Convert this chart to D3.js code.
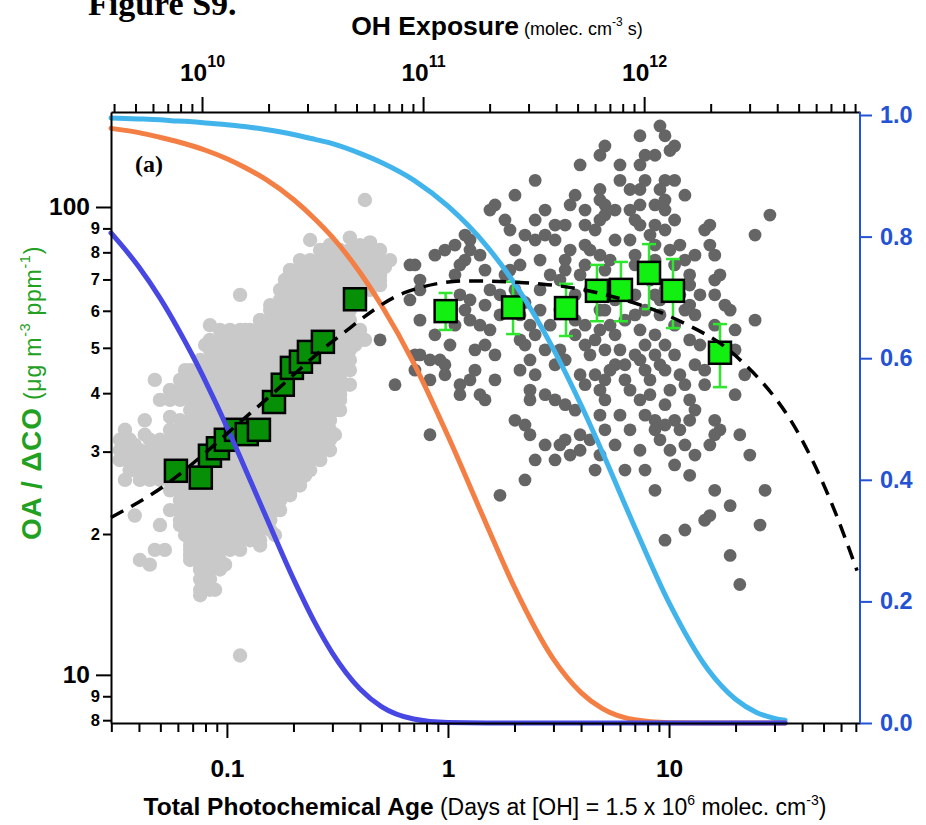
<!DOCTYPE html>
<html><head><meta charset="utf-8">
<script src="https://cdn.jsdelivr.net/npm/d3@7"></script>
<style>body{margin:0;background:#fff}svg{display:block}</style>
</head><body><svg id="chart" width="926" height="825"></svg>
<script>
// ---------------- DATA ----------------
const ohPerDay = 1.5e6 * 86400;          // OH exposure per day of age
const ageDomain = [0.0299, 73.1];
const ratioDomain = [7.89, 159.6];
const xMajorTicks = [0.1, 1, 10];
const yMajorTicks = [10, 100];
const yMinorTicks = [8, 9, 20, 30, 40, 50, 60, 70, 80, 90];
const rightTicks = [0, 0.2, 0.4, 0.6, 0.8, 1.0];
const ohMajorTicks = [1e10, 1e11, 1e12];

// dark grey points [age (days), OA/dCO]
const darkPoints = [[9.10,149],[9.59,142],[7.39,142],[10.6,135],[10.1,132],[8.64,129],[7.79,129],[5.13,135],[4.87,129],[3.96,123],[6.00,123],[7.39,123],[7.79,114],[7.39,109],[6.00,114],[6.66,109],[4.87,109],[9.59,114],[10.6,114],[11.8,106],[9.10,109],[9.59,103.5],[3.76,106],[3.57,101],[4.17,98.5],[4.87,103.5],[5.13,101],[5.70,98.5],[6.66,98.5],[7.39,101],[8.64,101],[9.59,98.5],[10.6,93.8],[7.39,91.5],[8.64,91.5],[9.59,89.3],[7.02,93.8],[4.17,91.5],[4.63,89.3],[4.87,93.8],[5.13,96.1],[2.48,114],[2.01,106],[1.632,101],[1.549,98.5],[2.75,98.5],[3.05,91.5],[3.39,91.5],[2.48,93.8],[1.811,93.8],[1.908,89.3],[2.23,87.1],[2.48,85.0],[2.75,87.1],[3.05,85.0],[5.70,85.0],[4.39,80.9],[4.87,78.9],[5.41,77.0],[3.57,80.9],[3.39,77.0],[3.39,73.3],[3.21,69.8],[3.96,71.6],[15.3,91.5],[14.5,89.3],[15.3,82.9],[16.1,78.9],[24.5,87.1],[28.6,96.1],[11.2,82.9],[13.1,78.9],[11.8,77.0],[8.64,82.9],[7.02,78.9],[12.4,71.6],[16.1,69.8],[17.0,71.6],[16.1,64.9],[17.9,61.7],[18.9,60.2],[24.5,57.3],[1.194,87.1],[1.076,82.9],[0.969,80.9],[0.873,78.9],[1.258,85.0],[1.258,80.9],[1.396,78.9],[1.194,77.0],[1.133,75.2],[1.076,71.6],[0.709,75.2],[0.747,69.8],[0.673,63.3],[0.747,57.3],[0.873,53.3],[1.021,50.7],[1.258,63.3],[1.258,57.3],[1.471,73.3],[1.549,66.5],[1.471,61.7],[1.719,58.8],[1.908,73.3],[2.118,75.2],[1.811,71.6],[2.01,80.9],[2.35,55.9],[2.61,66.5],[2.61,60.2],[2.48,53.3],[1.325,49.5],[1.471,50.7],[1.549,54.6],[1.632,48.3],[2.118,52.0],[2.23,50.7],[3.76,53.3],[4.17,50.7],[5.13,60.2],[5.70,53.3],[7.02,58.8],[7.39,54.6],[9.10,58.8],[8.64,53.3],[9.59,50.7],[10.6,55.9],[11.8,60.2],[12.4,52.0],[13.8,50.7],[13.1,58.8],[19.9,49.5],[19.9,54.6],[16.1,55.9],[5.13,49.5],[4.39,48.3],[2.75,49.5],[3.21,49.5],[7.02,48.3],[10.6,48.3],[4.17,82.9],[4.87,60.2],[4.17,55.9],[5.41,55.9],[7.02,64.9],[8.64,64.9],[12.4,61.7],[13.8,64.9],[12.4,68.1],[10.6,75.2],[7.02,75.2],[8.64,77.0],[4.17,75.2],[5.13,73.3],[3.76,64.9],[3.21,60.2],[2.90,55.9],[2.118,58.8],[1.719,64.9],[0.747,66.5],[1.133,64.9],[1.194,60.2],[1.396,55.9],[1.076,55.9],
[0.709,48.3],[0.829,47.1],[0.969,46.0],[0.709,44.8],[0.829,42.7],[0.969,43.8],[1.325,44.8],[1.632,42.7],[1.133,41.7],[1.258,42.7],[1.133,39.7],[1.396,39.7],[1.471,38.7],[2.118,44.8],[2.35,47.1],[2.48,43.8],[3.05,46.0],[3.39,47.1],[2.35,40.6],[2.35,38.7],[2.75,39.7],[3.05,38.7],[3.39,37.8],[3.76,36.8],[3.96,43.8],[4.17,41.7],[4.63,43.8],[4.87,40.6],[5.13,42.7],[5.70,46.0],[6.32,46.0],[7.39,47.1],[7.79,44.8],[8.64,48.3],[9.10,46.0],[9.59,44.8],[11.2,43.8],[6.32,42.7],[8.20,42.7],[13.1,46.0],[14.5,44.8],[11.8,41.7],[14.5,41.7],[19.9,39.7],[7.39,38.7],[8.20,39.7],[5.13,38.7],[4.87,35.9],[6.00,35.9],[7.79,35.9],[8.64,35.0],[9.59,37.8],[9.59,34.2],[10.6,35.0],[11.2,33.4],[12.4,35.0],[13.1,36.8],[16.1,35.0],[17.0,33.4],[16.1,32.6],[15.3,31.0],[20.9,32.6],[23.2,29.5],[11.8,31.0],[13.1,29.5],[10.6,28.1],[10.1,30.2],[9.10,31.8],[7.39,30.2],[6.66,33.4],[6.32,27.4],[5.13,33.4],[4.87,29.5],[4.63,27.4],[3.96,32.6],[4.39,31.8],[3.96,30.2],[3.39,31.8],[3.21,31.0],[3.05,28.8],[2.48,28.8],[2.23,26.1],[2.01,35.0],[2.23,34.2],[2.35,32.6],[1.719,24.2],[0.829,32.6],[8.64,24.8],[16.1,24.8],[18.9,23.0],[14.5,21.4],[15.3,21.9],[11.8,20.4],[9.59,19.4],[25.8,20.9],[18.9,18.0],[20.9,15.6],[22.0,43.8],[27.2,24.8],
[0.493,52.0],[0.576,41.7],[0.673,75.2],[0.747,48.3],[0.920,47.1],
[4.87,54.6],[6.32,57.3],[7.79,50.7],[6.00,49.5],[3.76,57.3],[4.63,52.0],[9.10,63.3],[7.79,60.2],
[5.70,63.3],[6.32,68.1],[8.20,69.8],[9.59,66.5],[11.2,64.9],[3.57,60.2],[4.39,66.5],[2.90,71.6],[2.61,77.0],[6.66,85.0],[8.20,87.1],[10.1,80.9],[2.01,66.5],[2.23,62.5],[1.908,60.2],[5.41,44.8],[6.66,40.6],[10.1,40.6],[12.4,38.7],[8.64,33.4],[5.70,31.0],[3.57,29.5],[2.75,31.0],[7.79,27.4],[12.4,26.7]];

// light grey points: outer edge of the cloud [age, OA/dCO]
const lightEdgePoints = [[0.421,103.5],[0.238,85.0],[0.400,82.9],[0.493,80.9],[0.547,77.0],[0.444,77.0],[0.2925,78.9],[0.193,73.3],[0.238,73.3],[0.325,77.0],[0.493,71.6],[0.493,68.1],[0.1147,64.9],[0.0838,55.9],[0.0981,53.3],[0.1413,53.3],[0.0472,42.7],[0.0553,40.6],[0.0498,38.7],[0.0614,40.6],[0.0647,44.8],[0.0718,43.8],[0.0328,31.8],[0.0363,31.8],[0.0425,32.6],[0.0328,28.8],[0.0404,29.5],[0.0383,27.4],[0.0472,26.7],[0.0582,32.6],[0.0682,34.2],[0.0757,36.8],[0.0797,38.7],[0.380,50.7],[0.421,52.0],[0.360,41.7],[0.325,43.8],[0.308,32.6],[0.278,35.0],[0.264,40.6],[0.183,69.8],[0.214,66.5],[0.264,64.9],[0.2925,68.1],[0.342,71.6],[0.400,71.6],[0.157,61.7],[0.183,60.2],[0.214,58.8],[0.238,60.2],[0.278,57.3],[0.325,55.9],[0.342,60.2],[0.1413,57.3],[0.1208,54.6],[0.1147,50.7],[0.1273,48.3],[0.149,49.5],[0.174,50.7],[0.193,52.0],[0.1413,46.0],[0.1208,42.7],[0.1033,41.7],[0.0930,38.7],[0.0838,35.9],[0.0757,34.2],[0.0682,31.0],[0.214,41.7],[0.238,37.8],[0.214,35.0],[0.183,34.2],[0.157,31.8],[0.1413,29.5],[0.174,29.5],[0.214,31.0],[0.238,32.6],[0.264,28.8],[0.214,28.1],[0.183,26.7],[0.1208,28.1],[0.1033,26.7],[0.0614,28.8],
[0.0346,26.1],[0.0425,27.4],[0.0383,21.9],[0.0498,20.9],[0.0553,22.5],[0.0472,18.5],[0.0524,18.5],[0.0404,17.6],[0.0448,17.2],[0.0614,20.9],[0.0647,19.9],[0.0682,18.0],[0.0757,16.8],[0.0797,15.6],[0.0884,15.2],[0.0757,14.8],[0.0838,17.6],[0.0884,18.5],[0.0981,17.2],[0.0682,18.9],[0.0797,19.4],[0.0930,19.4],[0.1088,19.9],[0.1208,20.4],[0.1413,18.9],[0.165,19.9],[0.1341,21.4],[0.1147,20.9],[0.0930,20.9],[0.0757,20.9],[0.0682,21.9],[0.0614,23.6],[0.0718,24.2],[0.0838,25.4],[0.1033,24.8],[0.1208,25.4],[0.149,24.8],[0.157,26.7],[0.1273,26.7],[0.0838,26.7],[0.193,28.8],[0.226,26.7],[0.214,25.4],[0.193,24.2],[0.1147,11.0],
[0.0797,50.7],[0.1088,52.0],[0.1341,52.0],[0.165,55.9],[0.278,61.7],[0.308,46.0],[0.325,39.7],[0.308,36.8],[0.2925,30.2],[0.165,22.5],[0.1088,21.9],[0.0383,31.0],[0.0346,33.4],
[0.2925,83.0],[0.36,86.0],[0.444,84.0],[0.519,74.5],[0.0425,35.0],[0.0553,35.6]];

// light grey points: dense core of the cloud, one row of ages per OA/dCO level
const lightRowRatio = [80.9,77.0,73.3,69.8,66.5,63.3,60.2,57.3,54.6,52.0,49.5,47.1,44.8,42.7,40.6,38.7,36.8,35.0,33.4,31.8,30.2,28.8,27.4,26.1,24.8,23.6,22.5,21.4,20.4,19.4,18.5,17.6,16.8,16.0,15.2];
const lightRowAges = [
[0.264,0.2925,0.325,0.36,0.4,0.444],
[0.214,0.238,0.264,0.2925,0.325,0.36,0.4,0.444,0.493],
[0.193,0.214,0.238,0.264,0.2925,0.325,0.36,0.4,0.444,0.493],
[0.193,0.214,0.238,0.264,0.2925,0.325,0.36,0.4,0.444,0.493],
[0.174,0.193,0.214,0.238,0.264,0.2925,0.325,0.36,0.4,0.444],
[0.174,0.193,0.214,0.238,0.264,0.2925,0.325,0.36,0.4],
[0.157,0.174,0.193,0.214,0.238,0.264,0.2925,0.325,0.36],
[0.1413,0.157,0.174,0.193,0.214,0.238,0.264,0.2925,0.325,0.36],
[0.093,0.1033,0.1147,0.1273,0.1413,0.157,0.174,0.193,0.214,0.238,0.264,0.2925,0.325,0.36,0.4],
[0.0838,0.093,0.1033,0.1147,0.1273,0.1413,0.157,0.174,0.193,0.214,0.238,0.264,0.2925,0.325,0.36,0.4],
[0.0838,0.093,0.1033,0.1147,0.1273,0.1413,0.157,0.174,0.193,0.214,0.238,0.264,0.2925,0.325,0.36],
[0.0757,0.0838,0.093,0.1033,0.1147,0.1273,0.1413,0.157,0.174,0.193,0.214,0.238,0.264,0.2925,0.325,0.36],
[0.0682,0.0757,0.0838,0.093,0.1033,0.1147,0.1273,0.1413,0.157,0.174,0.193,0.214,0.238,0.264,0.2925,0.325,0.36],
[0.0614,0.0682,0.0757,0.0838,0.093,0.1033,0.1147,0.1273,0.1413,0.157,0.174,0.193,0.214,0.238,0.264,0.2925,0.325],
[0.0553,0.0614,0.0682,0.0757,0.0838,0.093,0.1033,0.1147,0.1273,0.1413,0.157,0.174,0.193,0.214,0.238,0.264,0.2925,0.325],
[0.0553,0.0614,0.0682,0.0757,0.0838,0.093,0.1033,0.1147,0.1273,0.1413,0.157,0.174,0.193,0.214,0.238,0.264,0.2925,0.325],
[0.0682,0.0757,0.0838,0.093,0.1033,0.1147,0.1273,0.1413,0.157,0.174,0.193,0.214,0.238,0.264,0.2925,0.325],
[0.0614,0.0682,0.0757,0.0838,0.093,0.1033,0.1147,0.1273,0.1413,0.157,0.174,0.193,0.214,0.238,0.264,0.2925],
[0.0553,0.0614,0.0682,0.0757,0.0838,0.093,0.1033,0.1147,0.1273,0.1413,0.157,0.174,0.193,0.214,0.238,0.264,0.2925],
[0.0363,0.0448,0.0498,0.0553,0.0614,0.0682,0.0757,0.0838,0.093,0.1033,0.1147,0.1273,0.1413,0.157,0.174,0.193,0.214,0.238,0.264,0.2925],
[0.0328,0.0363,0.0404,0.0448,0.0498,0.0553,0.0614,0.0682,0.0757,0.0838,0.093,0.1033,0.1147,0.1273,0.1413,0.157,0.174,0.193,0.214,0.238,0.264],
[0.0328,0.0363,0.0404,0.0448,0.0498,0.0553,0.0614,0.0682,0.0757,0.0838,0.093,0.1033,0.1147,0.1273,0.1413,0.157,0.174,0.193,0.214,0.238,0.264],
[0.0363,0.0404,0.0448,0.0498,0.0553,0.0614,0.0682,0.0757,0.0838,0.093,0.1033,0.1147,0.1273,0.1413,0.157,0.174,0.193,0.214,0.238],
[0.0404,0.0448,0.0498,0.0553,0.0614,0.0682,0.0757,0.0838,0.093,0.1033,0.1147,0.1273,0.1413,0.157,0.174,0.193,0.214],
[0.0553,0.0614,0.0682,0.0757,0.0838,0.093,0.1033,0.1147,0.1273,0.1413,0.157,0.174,0.193],
[0.0614,0.0682,0.0757,0.0838,0.093,0.1033,0.1147,0.1273,0.1413,0.157,0.174],
[0.0614,0.0682,0.0757,0.0838,0.093,0.1033,0.1147,0.1273,0.1413,0.157,0.174],
[0.0614,0.0682,0.0757,0.0838,0.093,0.1033,0.1147,0.1273,0.1413,0.157],
[0.0682,0.0757,0.0838,0.093,0.1033,0.1147,0.1273,0.1413,0.157],
[0.0682,0.0757,0.0838,0.093,0.1033,0.1147,0.1273,0.1413],
[0.0682,0.0757,0.0838,0.093,0.1033,0.1147],
[0.0682,0.0757,0.0838,0.093],
[0.0757,0.0838,0.093],
[0.0757,0.0838],
[0.0757,0.0838]];

// binned averages, first flight (dark green) and aged (bright green)
const earlyBinAge   = [0.0588,0.0762,0.0838,0.0911,0.0989,0.110,0.123,0.1396,0.1633,0.179,0.1968,0.2162,0.235,0.2718,0.3796];
const earlyBinRatio = [27.3,26.4,29.4,30.5,31.8,33.4,32.7,33.4,38.3,41.7,45.3,46.7,49.0,51.5,63.5];
const earlyBinLo    = [25.9,25.1,27.9,29.0,30.2,31.7,31.1,31.7,36.4,39.6,43.0,44.4,46.6,48.9,60.3];
const earlyBinHi    = [28.7,27.7,30.9,32.0,33.4,35.1,34.3,35.1,40.2,43.8,47.6,49.0,51.5,54.1,66.7];
const agedBinAge    = [0.976,1.97,3.42,4.72,6.06,8.12,10.42,17.0];
const agedBinRatio  = [59.9,61.0,60.8,66.2,66.5,72.3,66.2,48.8];
const agedBinLo     = [54.6,53.5,53.0,57.0,57.0,60.5,55.1,41.2];
const agedBinHi     = [65.5,69.2,68.5,75.2,76.3,83.3,77.4,56.2];

// fit through OA/dCO (dashed)
const fitAge   = [0.0299,0.0468,0.1325,0.318,0.632,1.22,2.69,5.58,10.87,20.3,39.2,53.5,70.9];
const fitRatio = [21.7,24.5,36.8,52.7,65.5,69.5,68.4,64.3,57.4,47.8,32.3,23.7,16.7];

// fraction remaining (right axis)
const decayAge   = [0.0299,0.04,0.05,0.06,0.07,0.08,0.1,0.12,0.15,0.2,0.25,0.3,0.4,0.5,0.7,1,1.5,2,3,4,5,7,10,15,20,25,30,33.5];
const fastFrac   = [0.806,0.750,0.698,0.649,0.604,0.562,0.487,0.421,0.340,0.237,0.165,0.115,0.056,0.027,0.0065,0.0007,0,0,0,0,0,0,0,0,0,0,0,0];
const midFrac    = [0.978,0.971,0.963,0.956,0.949,0.942,0.928,0.914,0.894,0.861,0.829,0.799,0.741,0.687,0.592,0.472,0.325,0.223,0.105,0.050,0.0235,0.0052,0.0006,0,0,0,0,0];
const slowFrac   = [0.995,0.9935,0.992,0.990,0.989,0.987,0.984,0.981,0.976,0.968,0.960,0.953,0.937,0.922,0.893,0.850,0.784,0.723,0.615,0.523,0.445,0.322,0.198,0.088,0.039,0.017,0.0077,0.0044];

// ---------------- DRAW ----------------
const L = 111, R = 860, T = 112, B = 723;
const svg = d3.select("#chart");
const FONT = "'Liberation Sans', Arial, sans-serif";
const BLUE = "#2452d4", GREENT = "#22a022";

const x = d3.scaleLog().domain(ageDomain).range([L, R]);
const y = d3.scaleLog().domain(ratioDomain).range([B, T]);
const yR = d3.scaleLinear().domain([0, 1]).range([B, 115]);
const xTop = d3.scaleLog().domain(ageDomain.map(d => d * ohPerDay)).range([L, R]);

// scatter
const lightPts = [];
lightRowRatio.forEach((r, i) => lightRowAges[i].forEach(a => lightPts.push([a, r])));
lightEdgePoints.forEach(p => lightPts.push(p));
svg.append("g").selectAll("circle").data(lightPts).join("circle")
  .attr("cx", d => x(d[0])).attr("cy", d => y(d[1])).attr("r", 7.2).attr("fill", "#c9c9c9");
svg.append("g").selectAll("circle").data(darkPoints).join("circle")
  .attr("cx", d => x(d[0])).attr("cy", d => y(d[1])).attr("r", 6.4).attr("fill", "#656565");

// bins with error bars
function drawBins(ages, vals, lo, hi, fill) {
  const g = svg.append("g");
  const eb = "#2fe62f";
  ages.forEach((a, i) => {
    const cx = x(a);
    g.append("line").attr("x1", cx).attr("x2", cx).attr("y1", y(lo[i])).attr("y2", y(hi[i]))
      .attr("stroke", eb).attr("stroke-width", 2.5);
    [lo[i], hi[i]].forEach(v => g.append("line").attr("x1", cx - 7).attr("x2", cx + 7)
      .attr("y1", y(v)).attr("y2", y(v)).attr("stroke", eb).attr("stroke-width", 2.5));
  });
  g.selectAll("rect").data(ages).join("rect")
    .attr("x", (d) => x(d) - 11).attr("y", (d, i) => y(vals[i]) - 11)
    .attr("width", 22).attr("height", 22)
    .attr("fill", fill).attr("stroke", "#000").attr("stroke-width", 2.5);
}
drawBins(earlyBinAge, earlyBinRatio, earlyBinLo, earlyBinHi, "#078f07");
drawBins(agedBinAge, agedBinRatio, agedBinLo, agedBinHi, "#12f012");

// decay curves
const decLine = d3.line().x(d => x(d[0])).y(d => yR(d[1])).curve(d3.curveMonotoneX);
[[slowFrac, "#42b4ec"], [midFrac, "#f37f45"], [fastFrac, "#4747e3"]].forEach(([f, c]) => {
  svg.append("path").datum(decayAge.map((a, i) => [a, f[i]])).attr("d", decLine)
    .attr("fill", "none").attr("stroke", c).attr("stroke-width", 5).attr("stroke-linecap", "round");
});

// dashed fit
const fitLine = d3.line().x(d => x(d[0])).y(d => y(d[1])).curve(d3.curveMonotoneX);
svg.append("path").datum(fitAge.map((a, i) => [a, fitRatio[i]])).attr("d", fitLine)
  .attr("fill", "none").attr("stroke", "#000").attr("stroke-width", 3.5).attr("stroke-dasharray", "14,9");

// axes
function style(g, color, lw) {
  g.selectAll("path.domain").attr("stroke", color).attr("stroke-width", lw);
  g.selectAll(".tick line").attr("stroke", color).attr("stroke-width", 2);
  g.selectAll("text").attr("fill", color).attr("font-family", FONT).attr("font-weight", "bold");
}
const xMinor = x.ticks().filter(t => !xMajorTicks.some(m => Math.abs(m - t) < 1e-9));
let g;
g = svg.append("g").attr("transform", `translate(0,${B})`)
  .call(d3.axisBottom(x).tickValues(xMinor).tickSize(9).tickSizeOuter(0).tickFormat(""));
style(g, "#000", 2);
g = svg.append("g").attr("transform", `translate(0,${B})`)
  .call(d3.axisBottom(x).tickValues(xMajorTicks).tickSize(15).tickSizeOuter(0).tickPadding(22).tickFormat(d3.format("~g")));
g.select("path.domain").remove();
style(g, "#000", 2); g.selectAll("text").attr("font-size", 24.5);

const ohMinor = xTop.ticks().filter(t => !ohMajorTicks.some(m => Math.abs(m / t - 1) < 1e-6));
g = svg.append("g").attr("transform", `translate(0,${T})`)
  .call(d3.axisTop(xTop).tickValues(ohMinor).tickSize(8).tickSizeOuter(0).tickFormat(""));
style(g, "#000", 2);
g = svg.append("g").attr("transform", `translate(0,${T})`)
  .call(d3.axisTop(xTop).tickValues(ohMajorTicks).tickSize(15).tickSizeOuter(0).tickPadding(16).tickFormat(""));
g.select("path.domain").remove();
style(g, "#000", 2);
g.selectAll(".tick text").each(function(d) {
  const t = d3.select(this).attr("font-size", 24.5);
  t.append("tspan").text("10");
  t.append("tspan").attr("font-size", 16).attr("dy", -14).text(Math.round(Math.log10(d)));
});

g = svg.append("g").attr("transform", `translate(${L},0)`)
  .call(d3.axisLeft(y).tickValues(yMinorTicks).tickSize(8).tickSizeOuter(0).tickPadding(3)
  .tickFormat(d => String(d).charAt(0)));
style(g, "#000", 2); g.selectAll("text").attr("font-size", 16.5);
g = svg.append("g").attr("transform", `translate(${L},0)`)
  .call(d3.axisLeft(y).tickValues(yMajorTicks).tickSize(15).tickSizeOuter(0).tickPadding(6).tickFormat(d3.format("d")));
g.select("path.domain").remove();
style(g, "#000", 2); g.selectAll("text").attr("font-size", 24.5);

g = svg.append("g").attr("transform", `translate(${R},0)`)
  .call(d3.axisRight(yR).tickValues(rightTicks).tickSize(12).tickSizeOuter(0).tickPadding(8).tickFormat(d3.format(".1f")));
g.select("path.domain").attr("d", `M0,${T}V${B}`);
style(g, BLUE, 2); g.selectAll("text").attr("font-size", 23.5);

// titles
const bt = svg.append("text").attr("x", 485).attr("y", 815).attr("text-anchor", "middle")
  .attr("font-family", FONT).attr("fill", "#000");
bt.append("tspan").attr("font-weight", "bold").attr("font-size", 24.5).text("Total Photochemical Age");
bt.append("tspan").attr("font-size", 23).text(" (Days at [OH] = 1.5 x 10");
bt.append("tspan").attr("font-size", 14).attr("dy", -10).text("6");
bt.append("tspan").attr("font-size", 23).attr("dy", 10).text(" molec. cm");
bt.append("tspan").attr("font-size", 14).attr("dy", -10).text("-3");
bt.append("tspan").attr("font-size", 23).attr("dy", 10).text(")");

const tt = svg.append("text").attr("x", 497).attr("y", 35).attr("text-anchor", "middle")
  .attr("font-family", FONT).attr("fill", "#000");
tt.append("tspan").attr("font-weight", "bold").attr("font-size", 26.5).text("OH Exposure");
tt.append("tspan").attr("font-size", 18).text(" (molec. cm");
tt.append("tspan").attr("font-size", 12).attr("dy", -9).text("-3");
tt.append("tspan").attr("font-size", 18).attr("dy", 9).text(" s)");

const lt = svg.append("text").attr("transform", "translate(41,393) rotate(-90)").attr("text-anchor", "middle")
  .attr("font-family", FONT).attr("fill", GREENT).attr("letter-spacing", 0.8);
lt.append("tspan").attr("font-weight", "bold").attr("font-size", 28).text("OA / ΔCO");
lt.append("tspan").attr("font-size", 23).text(" (μg m");
lt.append("tspan").attr("font-size", 14).attr("dy", -11).text("-3");
lt.append("tspan").attr("font-size", 23).attr("dy", 11).text("  ppm");
lt.append("tspan").attr("font-size", 14).attr("dy", -11).text("-1");
lt.append("tspan").attr("font-size", 23).attr("dy", 11).text(")");

svg.append("text").attr("x", 88).attr("y", 15).attr("font-family", "'Liberation Serif', 'Times New Roman', serif")
  .attr("font-weight", "bold").attr("font-size", 34).text("Figure S9.");
svg.append("text").attr("x", 135).attr("y", 172).attr("font-family", "'Liberation Serif', 'Times New Roman', serif")
  .attr("font-weight", "bold").attr("font-size", 24).text("(a)");
</script></body></html>
